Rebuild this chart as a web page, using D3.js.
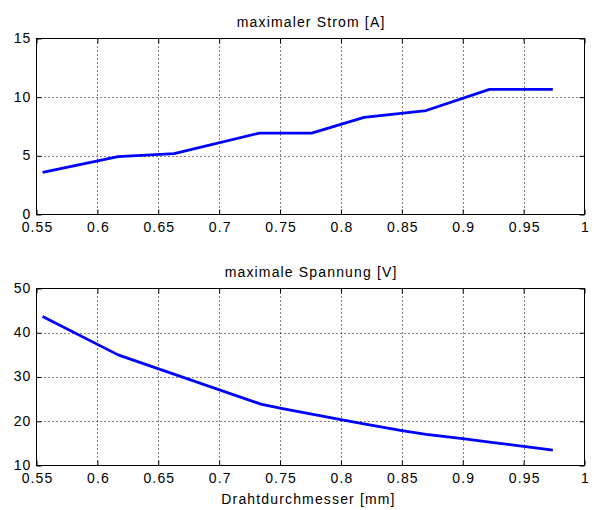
<!DOCTYPE html>
<html>
<head>
<meta charset="utf-8">
<script src="https://cdn.jsdelivr.net/npm/d3@7"></script>
<style>
  html, body { margin: 0; padding: 0; background: #fff; }
  svg text { font-family: "Liberation Sans", Arial, sans-serif; font-size: 14px; fill: #000; letter-spacing: 1.15px; }
</style>
</head>
<body>
<script>
// Wire diameter [mm] and maximum current [A]
const currentDiameter = [0.555, 0.617, 0.663, 0.733, 0.776, 0.819, 0.870, 0.922, 0.974];
const current = [3.6, 4.93, 5.18, 6.94, 6.94, 8.27, 8.86, 10.66, 10.66];
// Wire diameter [mm] and maximum voltage [V]
const voltageDiameter = [0.555, 0.617, 0.735, 0.75, 0.776, 0.8, 0.82, 0.85, 0.87, 0.9, 0.922, 0.95, 0.974];
const voltage = [43.7, 35.0, 23.8, 22.95, 21.6, 20.35, 19.35, 17.9, 17.05, 16.05, 15.3, 14.3, 13.45];

const xTicks = [0.55, 0.6, 0.65, 0.7, 0.75, 0.8, 0.85, 0.9, 0.95, 1];
const xTickLabels = ["0.55", "0.6", "0.65", "0.7", "0.75", "0.8", "0.85", "0.9", "0.95", "1"];
const currentTicks = [0, 5, 10, 15];
const voltageTicks = [10, 20, 30, 40, 50];

const titles = ["maximaler Strom [A]", "maximale Spannung [V]"];
const xLabel = "Drahtdurchmesser [mm]";

const W = 594, H = 510;
const svg = d3.select("body").append("svg").attr("width", W).attr("height", H);

const left = 36.5, right = 584.5;
const x = d3.scaleLinear().domain([0.55, 1]).range([left, right]);

function panel(top, bottom, yDomain, yTicks, xs, values, title) {
  const y = d3.scaleLinear().domain(yDomain).range([bottom, top]);
  const g = svg.append("g");

  // dotted grid
  g.append("g").selectAll("line").data(xTicks.slice(1, -1)).join("line")
    .attr("x1", d => Math.round(x(d)) + 0.5).attr("x2", d => Math.round(x(d)) + 0.5)
    .attr("y1", top).attr("y2", bottom)
    .attr("stroke", "#000").attr("stroke-width", 1).attr("stroke-dasharray", "1,3");
  g.append("g").selectAll("line").data(yTicks.slice(1, -1)).join("line")
    .attr("y1", d => Math.round(y(d)) + 0.5).attr("y2", d => Math.round(y(d)) + 0.5)
    .attr("x1", left).attr("x2", right)
    .attr("stroke", "#000").attr("stroke-width", 1).attr("stroke-dasharray", "1,3");

  // axes with inward ticks
  const fmt = d => xTickLabels[xTicks.indexOf(d)];
  const xb = g.append("g").attr("transform", `translate(0,${bottom})`)
    .call(d3.axisBottom(x).tickValues(xTicks).tickFormat(fmt).tickSizeInner(-5).tickSizeOuter(0).tickPadding(8));
  const xt = g.append("g").attr("transform", `translate(0,${top})`)
    .call(d3.axisTop(x).tickValues(xTicks).tickFormat("").tickSizeInner(-5).tickSizeOuter(0));
  const yl = g.append("g").attr("transform", `translate(${left},0)`)
    .call(d3.axisLeft(y).tickValues(yTicks).tickFormat(d3.format("d")).tickSizeInner(-5).tickSizeOuter(0).tickPadding(5));
  const yr = g.append("g").attr("transform", `translate(${right},0)`)
    .call(d3.axisRight(y).tickValues(yTicks).tickFormat("").tickSizeInner(-5).tickSizeOuter(0));
  [xb, xt, yl, yr].forEach(a => {
    a.attr("font-family", null).attr("font-size", null);
    a.select(".domain").remove();
    a.selectAll("line").attr("stroke", "#000");
  });
  xb.selectAll("text").attr("dx", "0.55px");
  yl.selectAll("text").attr("dy", "0.28em");

  // box
  g.append("rect").attr("x", left).attr("y", top)
    .attr("width", right - left).attr("height", bottom - top)
    .attr("fill", "none").attr("stroke", "#000").attr("stroke-width", 1);

  // data line
  const line = d3.line().x((d, i) => x(xs[i])).y(d => y(d));
  g.append("path").datum(values).attr("d", line)
    .attr("fill", "none").attr("stroke", "#0000ff").attr("stroke-width", 2.8)
    .attr("stroke-linejoin", "round").attr("stroke-linecap", "butt");

  g.append("text").attr("x", (left + right) / 2 + 0.6).attr("y", top - 11.5)
    .attr("text-anchor", "middle").text(title);
}

panel(38.5, 214.5, [0, 15], currentTicks, currentDiameter, current, titles[0]);
panel(288.5, 465.5, [10, 50], voltageTicks, voltageDiameter, voltage, titles[1]);

svg.append("text").attr("x", (left + right) / 2 - 2).attr("y", 504)
  .attr("text-anchor", "middle").text(xLabel);
</script>
</body>
</html>
